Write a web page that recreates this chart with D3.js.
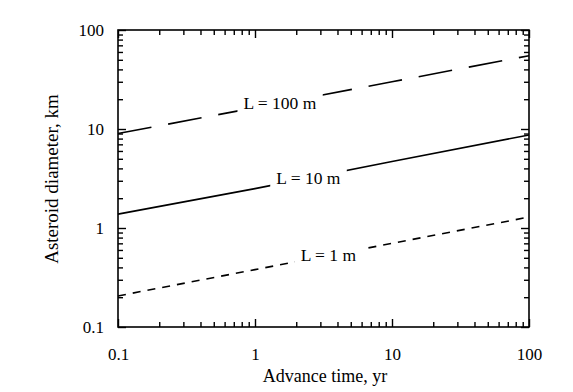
<!DOCTYPE html>
<html><head><meta charset="utf-8">
<script src="https://cdn.jsdelivr.net/npm/d3@7"></script>
<style>
body{margin:0;background:#fff;}
text{font-family:"Liberation Serif","DejaVu Serif",serif;fill:#000;}
</style></head>
<body><svg id="c" width="573" height="392"></svg>
<script>
const times = [0.1, 1, 10, 100];
const seriesNames = ["L = 100 m", "L = 10 m", "L = 1 m"];
const d100 = [9.0, 16.4, 30, 55];
const d10 = [1.38, 2.5, 4.7, 8.7];
const d1 = [0.206, 0.38, 0.70, 1.29];
const xTicks = [0.1, 1, 10, 100];
const yTicks = [0.1, 1, 10, 100];
const xTickLabels = ["0.1", "1", "10", "100"];
const yTickLabels = ["0.1", "1", "10", "100"];
const labelAt = [1.52, 2.45, 3.43]; // x position (yr) of each series label

const svg = d3.select("#c");
const L = 118, R = 529, T = 30, B = 327;
const x = d3.scaleLog().domain([0.1, 100]).range([L, R]);
const y = d3.scaleLog().domain([0.1, 100]).range([B, T]);

function minors(dom){
  const out=[];
  for(let e=Math.log10(dom[0]); e<Math.log10(dom[1]); e++){
    for(let k=2;k<=9;k++) out.push(k*Math.pow(10,e));
  }
  return out;
}
const xMin = minors(x.domain()), yMin = minors(y.domain());

const series = [
  {name: seriesNames[0], vals: d100, dash: "34,17", lx: labelAt[0]},
  {name: seriesNames[1], vals: d10, dash: null, lx: labelAt[1]},
  {name: seriesNames[2], vals: d1, dash: "8,7", lx: labelAt[2]},
];
const line = d3.line().x(d=>x(d[0])).y(d=>y(d[1]));
series.forEach(s=>{
  svg.append("path").datum(times.map((t,i)=>[t,s.vals[i]]))
    .attr("d", line).attr("fill","none").attr("stroke","#000")
    .attr("stroke-width",1.6).attr("stroke-dasharray", s.dash);
});

// series labels with white backing, sitting on lines
series.forEach(s=>{
  const lt = Math.log10(s.lx);
  const i = Math.min(Math.floor(lt - Math.log10(times[0])), times.length-2);
  const f = (lt - Math.log10(times[i])) / (Math.log10(times[i+1]) - Math.log10(times[i]));
  const lv = Math.log10(s.vals[i]) + f*(Math.log10(s.vals[i+1]) - Math.log10(s.vals[i]));
  const px = x(s.lx), py = y(Math.pow(10, lv));
  const g = svg.append("g");
  const t = g.append("text").attr("x", px).attr("y", py+5.5).attr("text-anchor","middle")
    .attr("font-size",17.5).text(s.name);
  const bb = t.node().getBBox();
  g.insert("rect","text").attr("x",bb.x-6).attr("y",bb.y-3).attr("width",bb.width+12).attr("height",bb.height+6).attr("fill","#fff");
});

function ax(gen, scale, tr, vals, size, labels){
  const a = gen(scale).tickValues(vals).tickSize(size).tickPadding(labels?labels.pad:0)
    .tickFormat(labels ? ((d,i)=>labels.txt[i]) : "");
  const g = svg.append("g").attr("transform", tr).call(a);
  g.selectAll(".tick line").attr("stroke-width",1.4);
  g.selectAll("text").attr("font-size",17).attr("font-family","Liberation Serif");
  return g;
}
// bottom
ax(d3.axisBottom, x, `translate(0,${B})`, xTicks, -8, {txt:xTickLabels, pad:21});
ax(d3.axisBottom, x, `translate(0,${B})`, xMin, -5);
// top
ax(d3.axisTop, x, `translate(0,${T})`, xTicks, -8);
ax(d3.axisTop, x, `translate(0,${T})`, xMin, -5);
// left
ax(d3.axisLeft, y, `translate(${L},0)`, yTicks, -8, {txt:yTickLabels, pad:14});
ax(d3.axisLeft, y, `translate(${L},0)`, yMin, -5);
// right
ax(d3.axisRight, y, `translate(${R},0)`, yTicks, -8);
ax(d3.axisRight, y, `translate(${R},0)`, yMin, -5);
svg.selectAll(".domain").remove();
svg.append("rect").attr("x",L).attr("y",T).attr("width",R-L).attr("height",B-T)
  .attr("fill","none").attr("stroke","#000").attr("stroke-width",1.6);

svg.append("text").attr("x",325).attr("y",382).attr("text-anchor","middle")
  .attr("font-size",18).text("Advance time, yr");
svg.append("text").attr("transform",`translate(58,179) rotate(-90)`)
  .attr("text-anchor","middle").attr("font-size",19).text("Asteroid diameter, km");
</script></body></html>
